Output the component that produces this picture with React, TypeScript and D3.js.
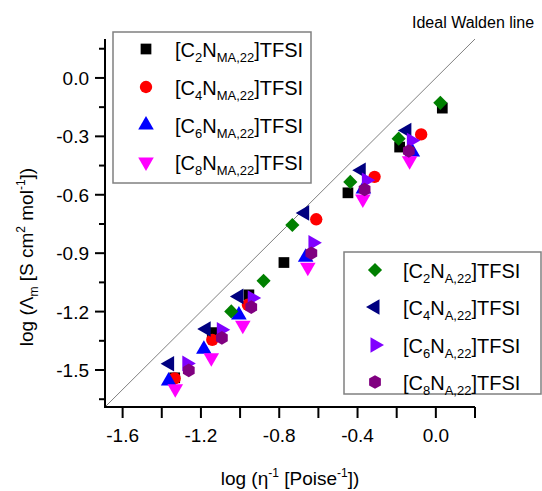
import React, { useEffect, useRef } from 'react';
import * as d3 from 'd3';

// log(eta^-1) vs log(Lambda_m)
const c2nma = [[0.033, -0.155], [-0.185, -0.355], [-0.449, -0.59], [-0.776, -0.948], [-0.955, -1.114], [-1.142, -1.308], [-1.334, -1.54]];
const c4nma = [[-0.075, -0.29], [-0.313, -0.508], [-0.611, -0.726], [-0.96, -1.165], [-1.142, -1.345], [-1.334, -1.543]];
const c6nma = [[-0.12, -0.38], [-0.37, -0.57], [-0.665, -0.921], [-1.006, -1.218], [-1.185, -1.393], [-1.365, -1.557]];
const c8nma = [[-0.134, -0.425], [-0.373, -0.622], [-0.654, -0.972], [-0.986, -1.27], [-1.147, -1.437], [-1.331, -1.596]];
const c2na = [[0.023, -0.128], [-0.19, -0.312], [-0.437, -0.534], [-0.733, -0.755], [-0.88, -1.042], [-1.045, -1.199]];
const c4na = [[-0.148, -0.27], [-0.381, -0.474], [-0.67, -0.693], [-1.006, -1.122], [-1.173, -1.289], [-1.36, -1.468]];
const c6na = [[-0.125, -0.321], [-0.355, -0.525], [-0.628, -0.846], [-0.938, -1.13], [-1.096, -1.293], [-1.272, -1.466]];
const c8na = [[-0.138, -0.375], [-0.364, -0.573], [-0.636, -0.9], [-0.943, -1.177], [-1.093, -1.335], [-1.262, -1.502]];

const xMajor = [-1.6, -1.2, -0.8, -0.4, 0.0];
const xMinor = [-1.4, -1.0, -0.6, -0.2, 0.2];
const yMajor = [0.0, -0.3, -0.6, -0.9, -1.2, -1.5];
const yMinor = [0.15, -0.15, -0.45, -0.75, -1.05, -1.35, -1.65];

const hexagon = {
  draw(ctx, size) {
    const r = Math.sqrt((2 * size) / (3 * Math.sqrt(3)));
    for (let i = 0; i < 6; i++) {
      const a = (Math.PI / 3) * i + Math.PI / 6;
      if (i === 0) ctx.moveTo(r * Math.cos(a), r * Math.sin(a));
      else ctx.lineTo(r * Math.cos(a), r * Math.sin(a));
    }
    ctx.closePath();
  },
};

// drawing order follows the legends
const series = [
  { name: 'C', n: '2', sub: 'MA,22', data: c2nma, color: '#000000', type: d3.symbolSquare, size: 115, rot: 0, legend: 1 },
  { name: 'C', n: '4', sub: 'MA,22', data: c4nma, color: '#ff0000', type: d3.symbolCircle, size: 120, rot: 0, legend: 1 },
  { name: 'C', n: '6', sub: 'MA,22', data: c6nma, color: '#0000ff', type: d3.symbolTriangle, size: 105, rot: 0, legend: 1 },
  { name: 'C', n: '8', sub: 'MA,22', data: c8nma, color: '#ff00ff', type: d3.symbolTriangle, size: 105, rot: 180, legend: 1 },
  { name: 'C', n: '2', sub: 'A,22', data: c2na, color: '#008000', type: d3.symbolSquare, size: 100, rot: 45, legend: 2 },
  { name: 'C', n: '4', sub: 'A,22', data: c4na, color: '#000080', type: d3.symbolTriangle, size: 105, rot: -90, legend: 2 },
  { name: 'C', n: '6', sub: 'A,22', data: c6na, color: '#8000ff', type: d3.symbolTriangle, size: 105, rot: 90, legend: 2 },
  { name: 'C', n: '8', sub: 'A,22', data: c8na, color: '#800080', type: hexagon, size: 120, rot: 0, legend: 2 },
];

function WaldenPlot() {
  const svgRef = useRef();

  useEffect(() => {
    const svg = d3.select(svgRef.current);
    svg.selectAll('*').remove();
    const font = 'Arial, "Liberation Sans", sans-serif';

    const x = d3.scaleLinear().domain([-1.69, 0.2]).range([105, 475]);
    const y = d3.scaleLinear().domain([-1.69, 0.2]).range([407, 39]);

    // ideal Walden line
    svg
      .append('line')
      .attr('x1', x(-1.69))
      .attr('y1', y(-1.69))
      .attr('x2', x(0.2))
      .attr('y2', y(0.2))
      .attr('stroke', '#808080')
      .attr('stroke-width', 1);
    svg
      .append('text')
      .attr('x', 412)
      .attr('y', 28)
      .attr('font-family', font)
      .attr('font-size', 16)
      .text('Ideal Walden line');

    // axes
    const ax = svg.append('g').attr('stroke', '#000').attr('stroke-width', 2);
    ax.append('line').attr('x1', 105).attr('x2', 105).attr('y1', y(0.2)).attr('y2', 408);
    ax.append('line').attr('x1', 104).attr('x2', x(0.2)).attr('y1', 407).attr('y2', 407);
    xMajor.concat(xMinor).forEach(function (v) {
      ax.append('line').attr('x1', x(v)).attr('x2', x(v)).attr('y1', 407).attr('y2', 418);
    });
    yMajor.forEach(function (v) {
      ax.append('line').attr('x1', 95).attr('x2', 105).attr('y1', y(v)).attr('y2', y(v));
    });
    yMinor.forEach(function (v) {
      ax.append('line').attr('x1', 99).attr('x2', 105).attr('y1', y(v)).attr('y2', y(v));
    });

    svg
      .append('g')
      .selectAll('text')
      .data(xMajor)
      .enter()
      .append('text')
      .attr('x', (d) => x(d))
      .attr('y', 442)
      .attr('text-anchor', 'middle')
      .attr('font-family', font)
      .attr('font-size', 19)
      .text((d) => d3.format('.1f')(d).replace('−', '-'));
    svg
      .append('g')
      .selectAll('text')
      .data(yMajor)
      .enter()
      .append('text')
      .attr('x', 89)
      .attr('y', (d) => y(d) + 7)
      .attr('text-anchor', 'end')
      .attr('font-family', font)
      .attr('font-size', 19)
      .text((d) => d3.format('.1f')(d).replace('−', '-'));

    // axis titles
    const xt = svg
      .append('text')
      .attr('x', 290)
      .attr('y', 485)
      .attr('text-anchor', 'middle')
      .attr('font-family', font)
      .attr('font-size', 19);
    xt.append('tspan').text('log (\u03b7');
    xt.append('tspan').attr('font-size', 12).attr('dy', -8).text('-1');
    xt.append('tspan').attr('dy', 8).text(' [Poise');
    xt.append('tspan').attr('font-size', 12).attr('dy', -8).text('-1');
    xt.append('tspan').attr('dy', 8).text('])');

    const yt = svg
      .append('text')
      .attr('transform', 'translate(33,257) rotate(-90)')
      .attr('text-anchor', 'middle')
      .attr('font-family', font)
      .attr('font-size', 19);
    yt.append('tspan').text('log (\u039b');
    yt.append('tspan').attr('font-size', 12).attr('dy', 5).text('m');
    yt.append('tspan').attr('dy', -5).text(' [S cm');
    yt.append('tspan').attr('font-size', 12).attr('dy', -8).text('2');
    yt.append('tspan').attr('dy', 8).text(' mol');
    yt.append('tspan').attr('font-size', 12).attr('dy', -8).text('-1');
    yt.append('tspan').attr('dy', 8).text('])');

    // points
    series.forEach(function (s) {
      const sym = d3.symbol().type(s.type).size(s.size);
      svg
        .append('g')
        .selectAll('path')
        .data(s.data)
        .enter()
        .append('path')
        .attr('d', sym())
        .attr('transform', (d) => 'translate(' + x(d[0]) + ',' + y(d[1]) + ') rotate(' + s.rot + ')')
        .attr('fill', s.color);
    });

    // legends
    const boxes = [
      { x: 113, y: 32, w: 198, h: 151, mx: 146, tx: 175, rows: [49, 87, 125, 162] },
      { x: 344, y: 252, w: 197, h: 142, mx: 375, tx: 403, rows: [270, 307, 345, 382] },
    ];
    boxes.forEach(function (b, bi) {
      svg
        .append('rect')
        .attr('x', b.x)
        .attr('y', b.y)
        .attr('width', b.w)
        .attr('height', b.h)
        .attr('fill', 'none')
        .attr('stroke', '#808080')
        .attr('stroke-width', 1.5);
      const items = series.filter((s) => s.legend === bi + 1);
      items.forEach(function (s, i) {
        const ry = b.rows[i];
        svg
          .append('path')
          .attr('d', d3.symbol().type(s.type).size(s.size)())
          .attr('transform', 'translate(' + b.mx + ',' + ry + ') rotate(' + s.rot + ')')
          .attr('fill', s.color);
        const t = svg
          .append('text')
          .attr('x', b.tx)
          .attr('y', ry + 8)
          .attr('font-family', font)
          .attr('font-size', 20);
        t.append('tspan').text('[' + s.name);
        t.append('tspan').attr('font-size', 13).attr('dy', 5).text(s.n);
        t.append('tspan').attr('dy', -5).text('N');
        t.append('tspan').attr('font-size', 13).attr('dy', 5).text(s.sub);
        t.append('tspan').attr('dy', -5).text(']TFSI');
      });
    });
  }, [svgRef]);

  return (
    <div style={{ position: 'absolute', left: 0, top: 0, width: 542, height: 491, background: '#fff' }}>
      <svg ref={svgRef} width={542} height={491} style={{ display: 'block' }}></svg>
    </div>
  );
}

export default function App() {
  return <WaldenPlot />;
}
